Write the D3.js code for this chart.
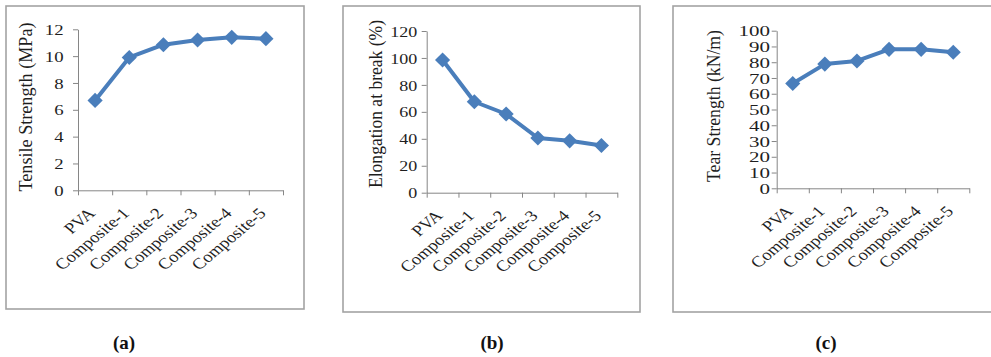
<!DOCTYPE html>
<html>
<head>
<meta charset="utf-8">
<script src="https://cdn.jsdelivr.net/npm/d3@7"></script>
<style>
  body { margin: 0; background: #fff; }
  svg { display: block; font-family: "Liberation Serif", "Times New Roman", serif; }
</style>
</head>
<body>
<div id="fig"></div>
<script>
// values
var categories = ["PVA", "Composite-1", "Composite-2", "Composite-3", "Composite-4", "Composite-5"];
var tensileValues = [6.7, 9.9, 10.85, 11.2, 11.4, 11.3];
var elongationValues = [98.5, 67.5, 58.4, 40.6, 38.5, 35.0];
var tearValues = [66.5, 78.8, 80.8, 88.2, 88.2, 86.3];

var tensileTicks = [0, 2, 4, 6, 8, 10, 12];
var elongationTicks = [0, 20, 40, 60, 80, 100, 120];
var tearTicks = [0, 10, 20, 30, 40, 50, 60, 70, 80, 90, 100];

var axisTitles = ["Tensile Strength (MPa)", "Elongation at break (%)", "Tear Strength (kN/m)"];
var captions = ["(a)", "(b)", "(c)"];

// the picture is stretched sideways, so text is too
var SX = 1.2;
var lineColor = "#4a7ebb";
var axisColor = "#868686";
var textColor = "#1e1e1e";

var panels = [
  {values: tensileValues, ticks: tensileTicks, title: axisTitles[0], caption: captions[0],
   frame: [6, 6, 298, 303], l: 78, r: 283, t: 29.3, b: 190.3, gap: 14.5, tsx: 1.25,
   tx: 25, ty: 107, tlen: 169, cx: 124},
  {values: elongationValues, ticks: elongationTicks, title: axisTitles[1], caption: captions[1],
   frame: [343, 6, 297, 306], l: 426.7, r: 617.3, t: 31, b: 192.7, gap: 9.5, tsx: 1.2,
   tx: 375, ty: 104, tlen: 168, cx: 492},
  {values: tearValues, ticks: tearTicks, title: axisTitles[2], caption: captions[2],
   frame: [673, 6, 330, 306], l: 776.7, r: 969.3, t: 30.7, b: 188.3, gap: 6.7, tsx: 1.4,
   tx: 713, ty: 106, tlen: 152, cx: 826}
];

var svg = d3.select("#fig")
  .append("svg")
  .attr("width", 991)
  .attr("height", 357);

function drawPanel(p) {
  var g = svg.append("g");

  // frame
  g.append("rect")
    .attr("x", p.frame[0])
    .attr("y", p.frame[1])
    .attr("width", p.frame[2])
    .attr("height", p.frame[3])
    .attr("fill", "none")
    .attr("stroke", "#a3a3a3")
    .attr("stroke-width", 1.6);

  var y = d3.scaleLinear()
    .domain([0, d3.max(p.ticks)])
    .range([p.b, p.t]);
  var xBand = d3.scaleBand()
    .domain(categories)
    .range([p.l, p.r]);
  var xTick = d3.scaleLinear()
    .domain([0, categories.length])
    .range([p.l, p.r]);

  // Y axis
  var yAxis = g.append("g")
    .attr("transform", "translate(" + p.l + ",0)")
    .call(d3.axisLeft(y).tickValues(p.ticks).tickSize(5).tickSizeOuter(0));
  yAxis.selectAll("path, line").attr("stroke", axisColor);
  yAxis.selectAll("text")
    .attr("x", -p.gap / p.tsx)
    .attr("dy", "0.34em")
    .attr("transform", "scale(" + p.tsx + ",1)")
    .attr("fill", textColor)
    .style("font-size", "15px")
    .style("font-family", "'Liberation Serif', serif");

  // X axis, tick marks between categories
  var xAxis = g.append("g")
    .attr("transform", "translate(0," + p.b + ")")
    .call(d3.axisBottom(xTick).tickValues(d3.range(0, categories.length + 1))
      .tickSize(5).tickSizeOuter(0).tickFormat(""));
  xAxis.selectAll("path, line").attr("stroke", axisColor);

  // category labels, rotated
  g.selectAll(".xlab")
    .data(categories)
    .enter()
    .append("text")
    .attr("class", "xlab")
    .attr("transform", function (d) {
      return "translate(" + (xBand(d) + xBand.bandwidth() / 2 + 1) + "," + (p.b + 24) + ") scale(" + SX + ",1) rotate(-45)";
    })
    .attr("text-anchor", "end")
    .attr("fill", textColor)
    .style("font-size", "15.5px")
    .text(function (d) { return d; });

  // axis title
  g.append("text")
    .attr("transform", "translate(" + p.tx + "," + p.ty + ") scale(" + SX + ",1) rotate(-90)")
    .attr("text-anchor", "middle")
    .attr("dy", "0.35em")
    .attr("textLength", p.tlen)
    .attr("lengthAdjust", "spacingAndGlyphs")
    .attr("fill", textColor)
    .style("font-size", "15.5px")
    .text(p.title);

  // the line
  var pts = categories.map(function (c, i) { return {cat: c, val: p.values[i]}; });
  g.append("path")
    .datum(pts)
    .attr("fill", "none")
    .attr("stroke", lineColor)
    .attr("stroke-width", 4)
    .attr("stroke-linejoin", "round")
    .attr("d", d3.line()
      .x(function (d) { return xBand(d.cat) + xBand.bandwidth() / 2; })
      .y(function (d) { return y(d.val); }));

  // diamond markers
  g.selectAll(".mark")
    .data(pts)
    .enter()
    .append("path")
    .attr("class", "mark")
    .attr("d", d3.symbol().type(d3.symbolSquare).size(115))
    .attr("transform", function (d) {
      return "translate(" + (xBand(d.cat) + xBand.bandwidth() / 2) + "," + y(d.val) + ") rotate(45)";
    })
    .attr("fill", lineColor);

  // caption under the frame
  svg.append("text")
    .attr("x", p.cx)
    .attr("y", 349)
    .attr("text-anchor", "middle")
    .attr("fill", "#111")
    .style("font-size", "19px")
    .style("font-weight", "bold")
    .text(p.caption);
}

panels.forEach(drawPanel);
</script>
</body>
</html>
